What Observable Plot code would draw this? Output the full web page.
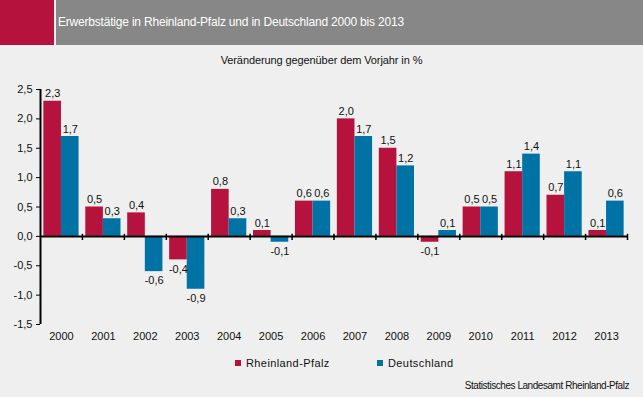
<!DOCTYPE html>
<html>
<head>
<meta charset="utf-8">
<script src="https://cdn.jsdelivr.net/npm/d3@7"></script>
<script src="https://cdn.jsdelivr.net/npm/@observablehq/plot@0.6"></script>
<style>
  html, body { margin: 0; padding: 0; background: #eeefee; }
  #wrap { position: relative; width: 643px; height: 397px; overflow: hidden; background: #eeefee; font-family: "Liberation Sans", Arial, sans-serif; color: #111; }
  #red { position: absolute; left: 0; top: 0; width: 54px; height: 45px; background: #b5133e; }
  #grey { position: absolute; left: 56px; top: 0; width: 587px; height: 45px; background: #878787; }
  #title { position: absolute; left: 58px; top: 15px; font-size: 12px; line-height: 14px; color: #fff; letter-spacing: -0.2px; white-space: nowrap; }
  #subtitle { position: absolute; left: 0; width: 643px; top: 54px; text-align: center; font-size: 11px; letter-spacing: -0.1px; }
  #chart { position: absolute; left: 0; top: 0; }
  #legend { position: absolute; top: 357px; left: 0; width: 643px; font-size: 11px; letter-spacing: 0.4px; }
  .item { position: absolute; top: 0; white-space: nowrap; }
  .sw { display: inline-block; width: 6px; height: 6px; margin-right: 5px; vertical-align: 1px; }
  #source { position: absolute; right: 14px; top: 380px; font-size: 10px; letter-spacing: -0.45px; white-space: nowrap; }
</style>
</head>
<body>
<div id="wrap">
  <div id="red"></div>
  <div id="grey"></div>
  <div id="title">Erwerbstätige in Rheinland-Pfalz und in Deutschland 2000 bis 2013</div>
  <div id="subtitle">Veränderung gegenüber dem Vorjahr in %</div>
  <div id="chart"></div>
  <div id="legend"></div>
  <div id="source">Statistisches Landesamt Rheinland-Pfalz</div>
</div>
<script>
const years = [2000, 2001, 2002, 2003, 2004, 2005, 2006, 2007, 2008, 2009, 2010, 2011, 2012, 2013];
const rlp = [2.3, 0.5, 0.4, -0.4, 0.8, 0.1, 0.6, 2.0, 1.5, -0.1, 0.5, 1.1, 0.7, 0.1];
const de  = [1.7, 0.3, -0.6, -0.9, 0.3, -0.1, 0.6, 1.7, 1.2, 0.1, 0.5, 1.4, 1.1, 0.6];
const seriesNames = ["Rheinland-Pfalz", "Deutschland"];
const seriesColors = ["#b5133e", "#0073a4"];
const yTicks = [-1.5, -1.0, -0.5, 0, 0.5, 1.0, 1.5, 2.0, 2.5];

const fmt = v => v.toFixed(1).replace(".", ",");
const W = 0.42; // bar width in year units

const data = years.flatMap((yr, i) => [
  { year: yr, series: seriesNames[0], value: rlp[i], side: -1 },
  { year: yr, series: seriesNames[1], value: de[i], side: 1 }
]);
const pos = data.filter(d => d.value >= 0);
const neg = data.filter(d => d.value < 0);
const bounds = [years[0] - 0.5, ...years.map(y => y + 0.5)];

const chart = Plot.plot({
  width: 643,
  height: 397,
  marginLeft: 40,
  marginRight: 16,
  marginTop: 89,
  marginBottom: 73,
  style: { fontFamily: "Liberation Sans, Arial, sans-serif", fontSize: "11px", background: "transparent", color: "#111" },
  x: { domain: [years[0] - 0.5, years[years.length - 1] + 0.5] },
  y: { domain: [-1.5, 2.5] },
  color: { domain: seriesNames, range: seriesColors },
  marks: [
    Plot.rect(data, {
      x1: d => d.side < 0 ? d.year - W : d.year,
      x2: d => d.side < 0 ? d.year : d.year + W,
      y1: 0, y2: "value", fill: "series"
    }),
    Plot.text(pos, { x: d => d.year + d.side * W / 2, y: "value", text: d => fmt(d.value), lineAnchor: "bottom", dy: -4, fill: "#111" }),
    Plot.text(neg, { x: d => d.year + d.side * W / 2, y: "value", text: d => fmt(d.value), lineAnchor: "top", dy: 5, fill: "#111" }),
    Plot.ruleY([0], { stroke: "#000", strokeWidth: 2 }),
    Plot.ruleX(bounds.slice(1), { y1: -0.07, y2: 0.035, stroke: "#000", strokeWidth: 1.5 }),
    Plot.ruleX([bounds[0]], { y1: -1.5, y2: 2.5, stroke: "#000", strokeWidth: 2 }),
    Plot.axisY({ ticks: yTicks, tickFormat: fmt, tickSize: 4, tickPadding: 4, stroke: "#000", label: null }),
    Plot.axisX({ ticks: years, tickFormat: d => String(d), tickSize: 0, tickPadding: 8, label: null })
  ]
});
document.getElementById("chart").appendChild(chart);

const legend = document.getElementById("legend");
const legendX = [235, 377];
seriesNames.forEach((name, i) => {
  const item = document.createElement("div");
  item.className = "item";
  item.style.left = legendX[i] + "px";
  const sw = document.createElement("span");
  sw.className = "sw";
  sw.style.background = seriesColors[i];
  item.appendChild(sw);
  item.appendChild(document.createTextNode(name));
  legend.appendChild(item);
});
</script>
</body>
</html>
